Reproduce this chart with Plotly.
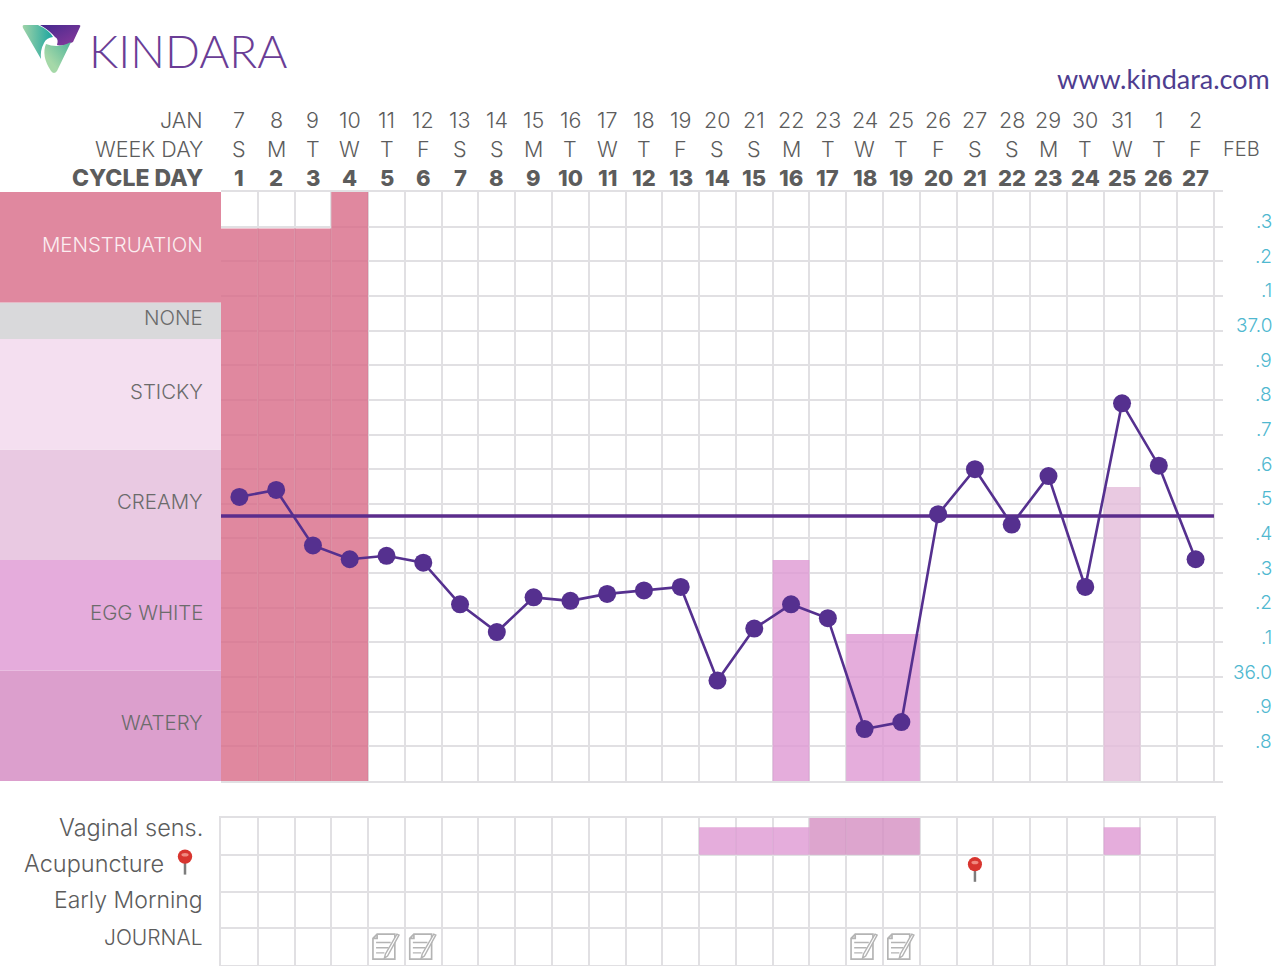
#!/usr/bin/env python3
"""Kindara fertility chart rebuilt with Plotly."""

import base64

import plotly.graph_objects as go

WIDTH = 1280
HEIGHT = 966

# header rows
dates = [7, 8, 9, 10, 11, 12, 13, 14, 15, 16, 17, 18, 19, 20, 21, 22, 23, 24, 25, 26, 27, 28, 29, 30, 31, 1, 2]
week_days = list("SMTWTFSSMTWTFSSMTWTFSSMTWTF")
cycle_days = list(range(1, 28))

# temperature curve
temps = [
    36.52, 36.54, 36.38, 36.34, 36.35, 36.33, 36.21, 36.13, 36.23, 36.22, 36.24, 36.25, 36.26, 35.99,
    36.14, 36.21, 36.17, 35.85, 35.87, 36.47, 36.60, 36.44, 36.58, 36.26, 36.79, 36.61, 36.34,
]
coverline = 36.465
temp_ticks = [37.3, 37.2, 37.1, 37.0, 36.9, 36.8, 36.7, 36.6, 36.5, 36.4, 36.3, 36.2, 36.1, 36.0, 35.9, 35.8]
temp_labels = [".3", ".2", ".1", "37.0", ".9", ".8", ".7", ".6", ".5", ".4", ".3", ".2", ".1", "36.0", ".9", ".8"]

# left hand fluid bands, bottom to top
band_names = ["WATERY", "EGG WHITE", "CREAMY", "STICKY", "NONE", "MENSTRUATION"]
band_sizes = [1, 1, 1, 1, 0.33, 1]
band_colors = ["#dc9fcd", "#e5acdc", "#e9c9e2", "#f4dff0", "#d9d9db", "#e0889f"]
band_text = ["#6b6b6b", "#6b6b6b", "#6b6b6b", "#6b6b6b", "#6b6b6b", "#fbeef1"]

# fluid bars in the main panel
flow_days = [1, 2, 3, 4]
flow_levels = [5.0, 5.0, 5.0, 5.33]
fluid_days = [16, 18, 19, 25]
fluid_levels = [2.0, 1.33, 1.33, 2.66]
fluid_colors = ["rgba(223,152,211,0.8)", "rgba(223,152,211,0.8)", "rgba(223,152,211,0.8)", "rgba(227,188,218,0.8)"]

# lower panel
row_names = ["Vaginal sens.", "Acupuncture", "Early Morning", "JOURNAL"]
sens_days = [14, 15, 16, 17, 18, 19, 25]
sens_levels = [0.75, 0.75, 0.75, 1, 1, 1, 0.75]
sens_colors = [
    "rgba(223,152,211,0.8)", "rgba(223,152,211,0.8)", "rgba(223,152,211,0.8)",
    "rgba(212,142,194,0.8)", "rgba(212,142,194,0.8)", "rgba(212,142,194,0.8)",
    "rgba(223,152,211,0.8)",
]
pin_days = [21]
journal_days = [5, 6, 18, 19]

GRID = "#e1e0e3"
TEXT = "#5c5c5c"
FONT = "Inter"


def svg_uri(svg):
    return "data:image/svg+xml;base64," + base64.b64encode(svg.encode()).decode()


LOGO = svg_uri(
    """<svg xmlns="http://www.w3.org/2000/svg" viewBox="0 0 60 52" width="240" height="208">
<defs>
<linearGradient id="p" x1="0" y1="0" x2="1" y2="1"><stop offset="0" stop-color="#44298e"/><stop offset="1" stop-color="#8c3a9c"/></linearGradient>
<linearGradient id="t" x1="0" y1="0" x2="1" y2="0"><stop offset="0" stop-color="#9fd3a8"/><stop offset="1" stop-color="#1aa5a0"/></linearGradient>
<linearGradient id="g" x1="0.3" y1="0.7" x2="1" y2="0"><stop offset="0" stop-color="#a5d8a8"/><stop offset="1" stop-color="#4fb59a"/></linearGradient>
</defs>
<path d="M18 1 H57 Q59 1 58 3 L51 18 Q43 23 35 21 Q37 15 33 13 Q27 6 18 1Z" fill="url(#p)"/>
<path d="M2 1 H16 Q27 6 31 13 Q24 14 22 19 Q18 26 19 35 L1 4 Q0 1 2 1Z" fill="url(#t)"/>
<path d="M24 20 Q36 25 49 18 L35 47 Q32 51 29 47 Q19 32 24 20Z" fill="url(#g)"/>
</svg>"""
)

PIN = svg_uri(
    """<svg xmlns="http://www.w3.org/2000/svg" viewBox="0 0 20 30" width="80" height="120">
<rect x="8.6" y="14" width="2.8" height="15" fill="#7d7d7d"/>
<circle cx="10" cy="9" r="8" fill="#d8352f"/>
<ellipse cx="10" cy="7" rx="4" ry="2" fill="#f08a80"/>
</svg>"""
)

JOURNAL = svg_uri(
    """<svg xmlns="http://www.w3.org/2000/svg" viewBox="0 0 30 28" width="120" height="112">
<path d="M2 6 L6 2 H23 V26 H2Z M2 6 H6 V2" fill="#fff" stroke="#b4b4b4" stroke-width="1.6"/>
<path d="M5 10 H19 M5 15 H17 M5 20 H13" stroke="#b4b4b4" stroke-width="1.4"/>
<path d="M27 3 L16 23 L13 25 L14 21 L25 2Z" fill="#fff" stroke="#b4b4b4" stroke-width="1.4"/>
</svg>"""
)


def px_x(x):
    return x / WIDTH


def px_y(y):
    return 1 - y / HEIGHT


fig = go.Figure()

# band labels on the far left
bases = [sum(band_sizes[:i]) for i in range(len(band_sizes))]
for name, size, base, color in zip(band_names, band_sizes, bases, band_colors):
    fig.add_trace(
        go.Bar(x=[0], y=[size], base=[base], width=[1], marker=dict(color=color, line_width=0), name=name,
               xaxis="x3", yaxis="y")
    )

fig.add_trace(
    go.Bar(x=flow_days, y=flow_levels, width=1, marker=dict(color="rgba(216,106,135,0.8)", line_width=0),
           xaxis="x", yaxis="y", name="flow")
)
fig.add_trace(
    go.Bar(x=fluid_days, y=fluid_levels, width=1, marker=dict(color=fluid_colors, line_width=0),
           xaxis="x", yaxis="y", name="fluid")
)

fig.add_trace(
    go.Scatter(x=[0.5, 27.5], y=[coverline, coverline], mode="lines", line=dict(color="#5b2d8c", width=3.5),
               xaxis="x", yaxis="y3", name="coverline")
)
fig.add_trace(
    go.Scatter(x=cycle_days, y=temps, mode="lines+markers", line=dict(color="#55308f", width=2.6),
               marker=dict(color="#55308f", size=18), xaxis="x", yaxis="y3", name="temperature")
)

fig.add_trace(
    go.Bar(x=sens_days, y=sens_levels, base=[3] * len(sens_days), width=1,
           marker=dict(color=sens_colors, line_width=0), xaxis="x2", yaxis="y2", name="sensation")
)

annotations = []


def label(text, x, y, size=21.5, color=TEXT, anchor="right", weight=300, xref="paper", yref="paper", family=FONT,
          yshift=0):
    annotations.append(
        dict(text=text, x=x, y=y, xref=xref, yref=yref, xanchor=anchor, yanchor="middle", showarrow=False,
             yshift=yshift, font=dict(family=family, size=size, color=color, weight=weight))
    )


# header
for day, date, week, cycle in zip(cycle_days, dates, week_days, cycle_days):
    label(str(date), day, px_y(120), anchor="center", xref="x")
    label(week, day, px_y(149), anchor="center", xref="x")
    label(str(cycle), day, px_y(178), anchor="center", weight=800, size=22, xref="x")
label("JAN", px_x(205), px_y(120))
label("WEEK DAY", px_x(205), px_y(149), size=21.5)
label("CYCLE DAY", px_x(205), px_y(178), weight=800, size=23)
label("FEB", px_x(1262), px_y(149), size=20)

# bands
for name, size, base, color in zip(band_names, band_sizes, bases, band_text):
    label(name, px_x(205), base + size / 2, size=20.4, color=color, yref="y", yshift=3)

# temperature scale
for tick, text in zip(temp_ticks, temp_labels):
    annotations.append(
        dict(text=text, x=px_x(1274), y=tick, xref="paper", yref="y3", xanchor="right", yanchor="middle",
             yshift=5, showarrow=False, font=dict(family=FONT, size=19, color="#4fb8d0", weight=300))
    )

# lower panel labels
label(row_names[0], px_x(205), px_y(827), size=23.5)
label(row_names[1], px_x(166), px_y(863), size=23.5)
label(row_names[2], px_x(205), px_y(900), size=23)
label(row_names[3], px_x(205), px_y(937), size=21)

# logo text and website
label("KINDARA", px_x(87), px_y(50), size=46, color="#6a3d96", anchor="left", weight=300, family="Lato")
label("www.kindara.com", px_x(1272), px_y(78), size=27, color="#4e3d8f", family="Lato", weight=400)

images = [
    dict(source=LOGO, xref="paper", yref="paper", x=px_x(22), y=px_y(24), sizex=60 / WIDTH, sizey=52 / HEIGHT,
         xanchor="left", yanchor="top", sizing="stretch", layer="above"),
    dict(source=PIN, xref="paper", yref="paper", x=px_x(185), y=px_y(862), sizex=18 / WIDTH, sizey=27 / HEIGHT,
         xanchor="center", yanchor="middle", sizing="contain", layer="above"),
]
for day in pin_days:
    images.append(
        dict(source=PIN, xref="x2", yref="y2", x=day, y=2.6, sizex=0.5, sizey=0.72, xanchor="center",
             yanchor="middle", sizing="contain", layer="above")
    )
for day in journal_days:
    images.append(
        dict(source=JOURNAL, xref="x2", yref="y2", x=day, y=0.5, sizex=0.85, sizey=0.8, xanchor="center",
             yanchor="middle", sizing="contain", layer="above")
    )

fig.update_layout(
    width=WIDTH,
    height=HEIGHT,
    margin=dict(l=0, r=0, t=0, b=0),
    paper_bgcolor="white",
    plot_bgcolor="white",
    showlegend=False,
    barmode="overlay",
    annotations=annotations,
    images=images,
    xaxis=dict(
        domain=[px_x(221), px_x(1223)], range=[0.5, 27.745], tick0=0.5, dtick=1, showgrid=True, gridcolor=GRID,
        gridwidth=2, showticklabels=False, ticks="", zeroline=False, anchor="y", showline=True, mirror=True,
        linecolor=GRID, linewidth=2,
    ),
    yaxis=dict(
        domain=[px_y(781), px_y(192)], range=[0, 5.33], showgrid=False, showticklabels=False, ticks="",
        zeroline=False, anchor="x",
    ),
    yaxis3=dict(
        domain=[px_y(781), px_y(192)], range=[35.7, 37.4], tick0=35.7, dtick=0.1, showgrid=True, gridcolor=GRID,
        gridwidth=2, showticklabels=False, ticks="", zeroline=False, overlaying="y", anchor="x",
    ),
    xaxis3=dict(
        domain=[0, px_x(221)], range=[-0.5, 0.5], showgrid=False, showticklabels=False, ticks="", zeroline=False,
        anchor="y",
    ),
    xaxis2=dict(
        domain=[px_x(221), px_x(1214)], range=[0.5, 27.5], tick0=0.5, dtick=1, showgrid=True, gridcolor=GRID,
        gridwidth=2, showticklabels=False, ticks="", zeroline=False, anchor="y2", showline=True, mirror=True,
        linecolor=GRID, linewidth=2,
    ),
    yaxis2=dict(
        domain=[px_y(965), px_y(818)], range=[0, 4], tick0=0, dtick=1, showgrid=True, gridcolor=GRID, gridwidth=2,
        showticklabels=False, ticks="", zeroline=False, anchor="x2", showline=True, mirror=True, linecolor=GRID,
        linewidth=2,
    ),
)

fig.write_html("out.html", post_script="document.body.style.margin='0';", config={"displayModeBar": False})
